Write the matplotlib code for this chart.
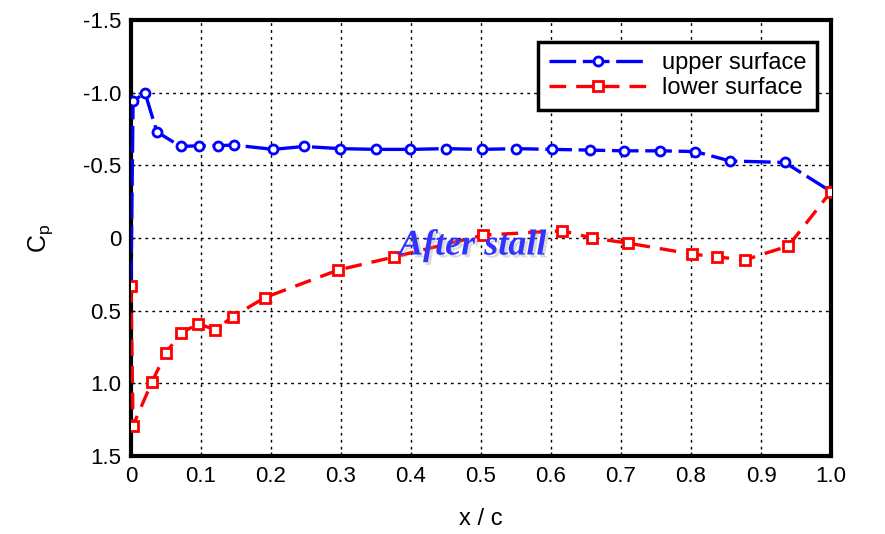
import numpy as np
import matplotlib.pyplot as plt
import matplotlib.patheffects as pe

# upper surface (x/c, Cp)
x_up = [0.0, 0.003, 0.02, 0.037, 0.071, 0.097, 0.124, 0.147, 0.203, 0.247, 0.299,
        0.35, 0.399, 0.45, 0.501, 0.55, 0.601, 0.656, 0.704, 0.756, 0.806, 0.856,
        0.934, 1.0]
cp_up = [0.33, -0.94, -1.0, -0.73, -0.63, -0.635, -0.635, -0.64, -0.61, -0.63, -0.615,
         -0.61, -0.61, -0.615, -0.61, -0.615, -0.61, -0.605, -0.60, -0.60, -0.595, -0.53,
         -0.52, -0.32]

# lower surface
x_lo = [0.0, 0.003, 0.03, 0.05, 0.071, 0.096, 0.12, 0.146, 0.191, 0.296, 0.376,
        0.503, 0.616, 0.659, 0.71, 0.801, 0.837, 0.877, 0.939, 1.0]
cp_lo = [0.33, 1.29, 0.99, 0.79, 0.655, 0.59, 0.63, 0.54, 0.41, 0.22, 0.13,
         -0.02, -0.05, 0.0, 0.035, 0.11, 0.13, 0.15, 0.055, -0.32]

xticks = [0, 0.1, 0.2, 0.3, 0.4, 0.5, 0.6, 0.7, 0.8, 0.9, 1.0]
xtick_labels = ['0', '0.1', '0.2', '0.3', '0.4', '0.5', '0.6', '0.7', '0.8', '0.9', '1.0']
yticks = [-1.5, -1.0, -0.5, 0, 0.5, 1.0, 1.5]
ytick_labels = ['-1.5', '-1.0', '-0.5', '0', '0.5', '1.0', '1.5']

plt.rcParams['font.family'] = ['Liberation Sans', 'DejaVu Sans']

fig = plt.figure(figsize=(8.85, 5.34), dpi=100)
ax = fig.add_axes([0.148, 0.146, 0.791, 0.8165])

ax.plot(x_up, cp_up, color='#0000ff', lw=2.4, ls=(0, (8, 2)), marker='o', ms=6.5,
        mfc='white', mec='#0000ff', mew=2, label='upper surface', zorder=3)
ax.plot(x_lo, cp_lo, color='#ff0000', lw=2.4, ls=(0, (5, 3)), marker='s', ms=6.5,
        mfc='white', mec='#ff0000', mew=2, label='lower surface', zorder=3)

ax.set_xlim(0, 1.0)
ax.set_ylim(1.5, -1.5)
ax.set_xticks(xticks)
ax.set_xticklabels(xtick_labels)
ax.set_yticks(yticks)
ax.set_yticklabels(ytick_labels)
ax.tick_params(labelsize=16, direction='in', length=3, width=1, pad=7)
ax.grid(True, color='black', ls=(0, (2, 3)), lw=1)
for s in ax.spines.values():
    s.set_linewidth(3)

ax.set_xlabel('x / c', fontsize=17, labelpad=15)
ax.set_ylabel('C$_\\mathregular{p}$', fontsize=18, labelpad=20)

t = ax.text(0.488, 0.055, 'After stall', fontsize=26, family='Liberation Serif',
            style='italic', weight='bold', color='#3333ff', ha='center', va='center',
            zorder=4)
t.set_path_effects([pe.SimplePatchShadow(offset=(2, -2), shadow_rgbFace='#999999', alpha=0.35),
                    pe.Normal()])

leg = ax.legend(loc='upper right', fontsize=17, frameon=True, fancybox=False,
                framealpha=1, edgecolor='black', handlelength=4.2, borderpad=0.45,
                labelspacing=0.12, handletextpad=0.6, borderaxespad=0,
                bbox_to_anchor=(0.98, 0.95))
leg.get_frame().set_linewidth(2.5)

fig.savefig('out.png', dpi=100)
